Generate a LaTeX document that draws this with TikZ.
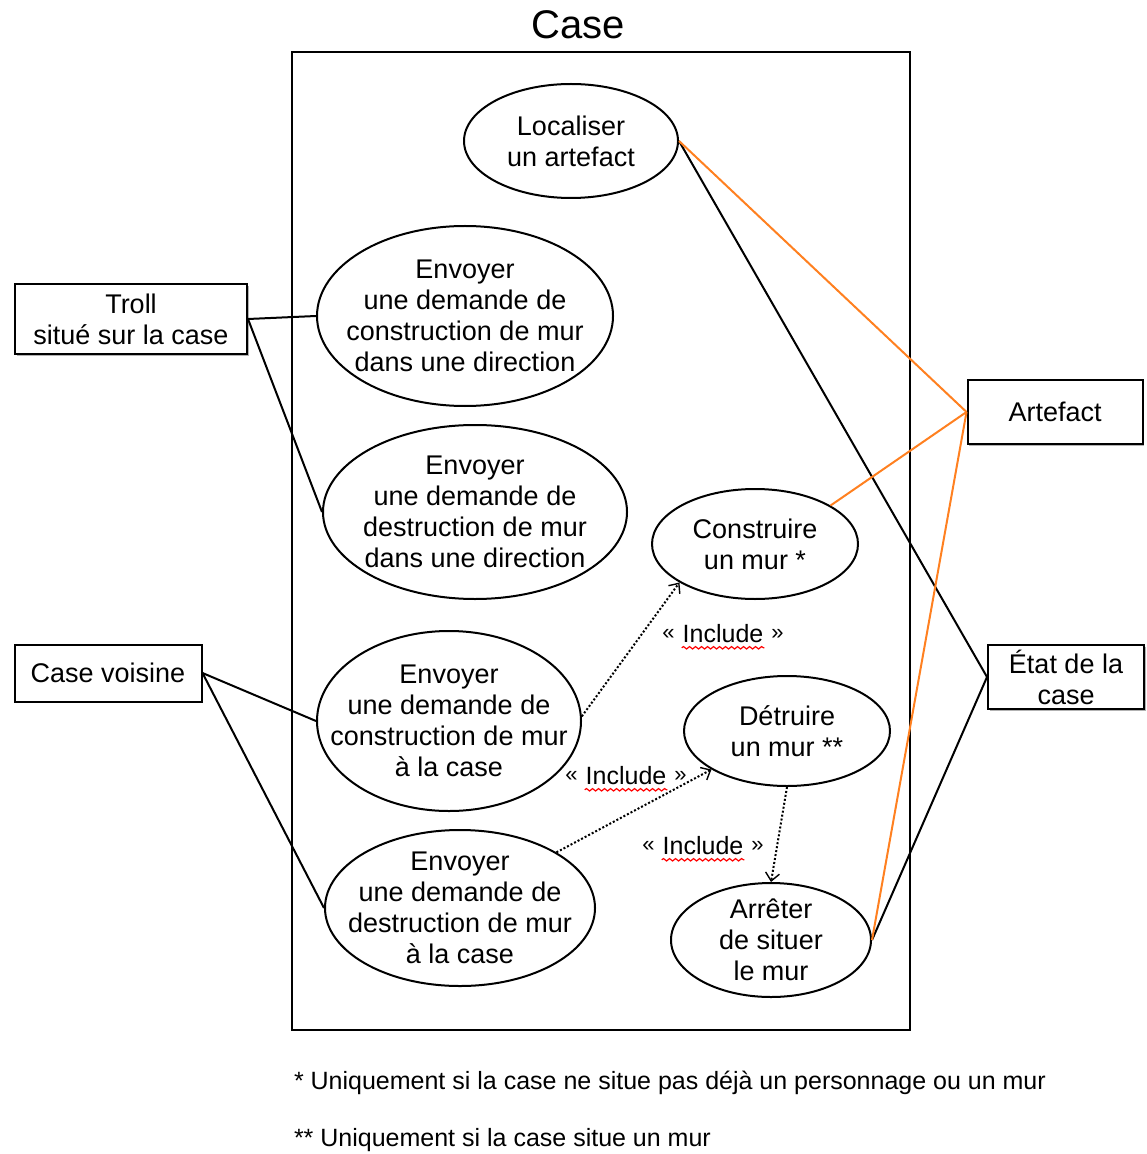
\documentclass[tikz,border=0pt]{standalone}
\usepackage{fontspec}
\setmainfont{Liberation Sans}
\usetikzlibrary{shapes.geometric, arrows.meta, shadows, decorations.pathmorphing}
\definecolor{artorange}{RGB}{255,128,32}

\begin{document}
\begin{tikzpicture}[x=0.5pt, y=-0.5pt, line width=1pt, black,
        every node/.style={font=\fontsize{13.5}{15.5}\selectfont},
        usecase/.style={draw, ellipse, inner sep=0pt},
        actor/.style={draw, fill=white, inner sep=0pt, align=center,
            drop shadow={shadow xshift=0.8pt, shadow yshift=-0.8pt, fill=black!60}},
        artline/.style={draw=artorange},
        include/.style={densely dotted, line width=1pt,
            -{Straight Barb[length=4pt, width=7pt, line width=0.7pt]}},
        inclabel/.style={inner sep=0pt, font=\fontsize{12.5}{14}\selectfont},
        squiggle/.style={draw=red, line width=0.6pt, decorate,
            decoration={snake, amplitude=0.6pt, segment length=3pt}}]
    \useasboundingbox (0,0) rectangle (1146,1154);

    % Draw the system boundary
    \node[font=\fontsize{20}{24}\selectfont] (title) at (578,25) {Case};
    \draw (292,52) rectangle (910,1030);

    % Draw the use cases
    \node[usecase, minimum width=107pt, minimum height=57pt,
        label={[align=center]center:{Localiser\\un artefact}}] (loc) at (571,141) {};
    \node[usecase, minimum width=148pt, minimum height=90pt,
        label={[align=center]center:{Envoyer\\une demande de\\construction de mur\\dans une direction}}] (consdir) at (465,316) {};
    \node[usecase, minimum width=152pt, minimum height=87pt,
        label={[align=center]center:{Envoyer\\une demande de\\destruction de mur\\dans une direction}}] (destdir) at (475,512) {};
    \node[usecase, minimum width=103pt, minimum height=55pt,
        label={[align=center]center:{Construire\\un mur *}}] (cons) at (755,544) {};
    \node[usecase, minimum width=132pt, minimum height=90pt,
        label={[align=center]center:{Envoyer\\une demande de\\construction de mur\\à la case}}] (conscase) at (449,721) {};
    \node[usecase, minimum width=103pt, minimum height=55pt,
        label={[align=center]center:{Détruire\\un mur **}}] (dest) at (787,731) {};
    \node[usecase, minimum width=135pt, minimum height=78pt,
        label={[align=center]center:{Envoyer\\une demande de\\destruction de mur\\à la case}}] (destcase) at (460,908) {};
    \node[usecase, minimum width=100pt, minimum height=57pt,
        label={[align=center]center:{Arrêter\\de situer\\le mur}}] (stop) at (771,940) {};

    % Draw the actors
    \node[actor, minimum width=116pt, minimum height=35pt] (troll) at (131,319) {Troll\\situé sur la case};
    \node[actor, minimum width=93.5pt, minimum height=28.5pt] (voisine) at (108,673) {Case voisine};
    \node[actor, minimum width=87.5pt, minimum height=32pt] (artefact) at (1055,412) {Artefact};
    \node[actor, minimum width=78pt, minimum height=32pt] (etat) at (1066,677) {État de la\\case};

    % Draw the associations
    \draw (troll.east) -- (consdir.west);
    \draw (troll.east) -- (destdir.west);
    \draw (voisine.east) -- (conscase.west);
    \draw (voisine.east) -- (destcase.west);
    \draw (loc.east) -- (etat.west);
    \draw (stop.east) -- (etat.west);
    \draw[artline] (loc.east) -- (artefact.west);
    \draw[artline] (cons.27) -- (artefact.west);
    \draw[artline] (stop.east) -- (artefact.west);

    % Draw the include relations
    \draw[include] (conscase.2) -- (cons.207);
    \draw[include] (destcase.30) -- (dest.207);
    \draw[include] (dest.south) -- (stop.north);

    \foreach \x/\y/\n in {723/634/inca, 626/776/incb, 703/846/incc} {
        \node[inclabel] (\n) at (\x,\y) {Include};
        \node[inclabel, anchor=east, font=\fontsize{11}{13}\selectfont] at ([xshift=-3pt]\n.west) {«};
        \node[inclabel, anchor=west, font=\fontsize{11}{13}\selectfont] at ([xshift=3pt]\n.east) {»};
        \draw[squiggle] ([yshift=-1.8pt]\n.south west) -- ([yshift=-1.8pt]\n.south east);
    }

    % Draw the footnotes
    \node[inclabel, anchor=west] (note1) at (293,1083) {* Uniquement si la case ne situe pas déjà un personnage ou un mur};
    \node[inclabel, anchor=west] (note2) at (293,1140) {** Uniquement si la case situe un mur};
\end{tikzpicture}
\end{document}
